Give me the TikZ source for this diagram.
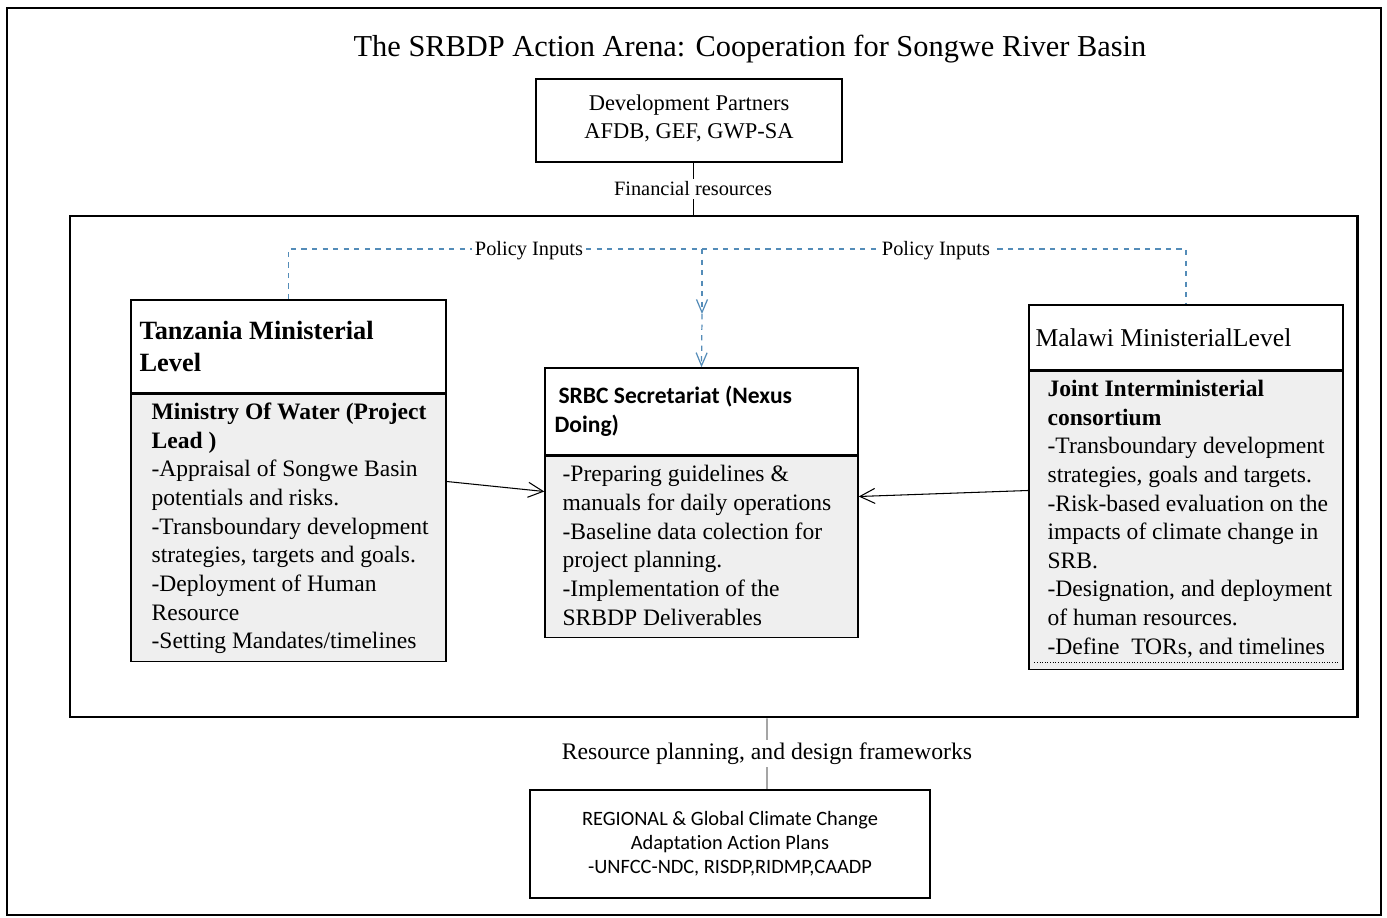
\documentclass[tikz,border=0pt]{standalone}
\usepackage{fontspec}
\setmainfont{Liberation Serif}
\newfontfamily\calibri[Ligatures=NoCommon]{Carlito}
\usetikzlibrary{arrows.meta, positioning}
\newdimen\px \px=0.02cm
\newcommand\fsz[2]{\fontsize{#1}{#2}\selectfont}
\definecolor{policyblue}{RGB}{84,140,184}
\definecolor{bodygray}{RGB}{239,239,239}

\begin{document}
\begin{tikzpicture}[x=0.02cm, y=-0.02cm,
    box/.style={draw, line width=0.85pt, inner sep=0pt},
    txt/.style={inner sep=0pt, align=left, anchor=west},
    body/.style={font=\fsz{13.4}{16.3}},
    lbl/.style={fill=white, inner sep=1.5pt},
    policy/.style={draw=policyblue, dashed, line width=0.7pt},
    ptip/.style={-{Straight Barb[length=2.6mm, width=2.2mm]}},
    flow/.style={-{Straight Barb[length=3mm, width=3mm]}, line width=0.6pt}]
\useasboundingbox (0,0) rectangle (1387,918);
\draw[line width=1.2pt] (7,8) rectangle (1381,915);

% title and partners
\node[anchor=base, font=\fsz{17.3}{20}] (title) at (750,57) {The SRBDP Action Arena: Cooperation for Songwe River Basin};
\node[box, line width=1.4pt, minimum width=306\px, minimum height=83\px, align=center, font=\fsz{12.8}{15.9}] (devp) at (689,120.5) {Development Partners\\AFDB, GEF, GWP-SA\vphantom{(}\\[-12pt]};

% action arena
\node[draw, line width=1.7pt, minimum width=1287\px, minimum height=501\px] (arena) at (713.5,466.5) {};
\draw ([xshift=4\px]devp.south) -- ([xshift=4\px]devp.south |- arena.north) node[midway, lbl, font=\fsz{11.6}{14}] (fin) {Financial resources};

% Tanzania
\node[box, minimum width=315\px, minimum height=93\px] (tzhead) at (288.5,346.5) {};
\node[box, fill=bodygray, minimum width=315\px, minimum height=267\px, anchor=north] (tzbody) at (tzhead.south) {};
\node[txt, font=\fsz{15}{18.1}\bfseries] (tzheadtxt) at ([xshift=9\px]tzhead.west) {Tanzania Ministerial\\Level};
\node[txt, body] (tzbodytxt) at ([xshift=21\px, yshift=-0.01cm]tzbody.west) {{\bfseries Ministry Of Water (Project}\\{\bfseries Lead )}\\-Appraisal of Songwe Basin\\potentials and risks.\\-Transboundary development\\strategies, targets and goals.\\-Deployment of Human\\Resource\\-Setting Mandates/timelines};

% SRBC
\node[box, minimum width=313\px, minimum height=87\px] (srbchead) at (701.5,411.5) {};
\node[box, fill=bodygray, minimum width=313\px, minimum height=181\px, anchor=north] (srbcbody) at (srbchead.south) {};
\node[txt, font=\calibri\fsz{13.4}{16.4}\bfseries] (srbcheadtxt) at ([xshift=10\px]srbchead.west) {\,SRBC Secretariat (Nexus\\Doing)};
\node[txt, body] (srbcbodytxt) at ([xshift=18\px, yshift=0.03cm]srbcbody.west) {-Preparing guidelines \&\\manuals for daily operations\\-Baseline data colection for\\project planning.\\-Implementation of the\\SRBDP Deliverables};

% Malawi
\node[box, minimum width=314\px, minimum height=65\px] (mwhead) at (1186,337.5) {};
\node[box, fill=bodygray, minimum width=314\px, minimum height=298\px, anchor=north] (mwbody) at (mwhead.south) {};
\node[txt, font=\fsz{14.6}{17.5}] (mwheadtxt) at ([xshift=7\px]mwhead.west) {Malawi MinisterialLevel};
\node[txt, body] (mwbodytxt) at ([xshift=19\px, yshift=0.03cm]mwbody.west) {{\bfseries Joint Interministerial}\\{\bfseries consortium}\\-Transboundary development\\strategies, goals and targets.\\-Risk-based evaluation on the\\impacts of climate change in\\SRB.\\-Designation, and deployment\\of human resources.\\-Define\ \ TORs, and timelines};
\draw[densely dotted, line width=0.5pt] ([shift={(6,-8)}]mwbody.south west) -- ([shift={(-5,-8)}]mwbody.south east);

% policy inputs
\coordinate (ptop) at (702,249);
\coordinate (pmid) at (702,314);
\draw[policy] (tzhead.north) |- (ptop) -| (mwhead.north);
\node[lbl, font=\fsz{11.6}{14}] (pin1) at (529,251) {Policy Inputs};
\node[lbl, font=\fsz{11.6}{14}] (pin2) at (936,251) {Policy Inputs};
\draw[policy, ptip] (ptop) -- (pmid);
\draw[policy, ptip] (pmid) -- (srbchead.north);

% flows into the secretariat
\draw[flow] ([yshift=0.93cm]tzbody.east) -- ([yshift=1.11cm]srbcbody.west);
\draw[flow] ([yshift=0.6cm]mwbody.west) -- ([yshift=1.01cm]srbcbody.east);

% frameworks
\node[box, line width=0.7pt, minimum width=400\px, minimum height=108\px, align=center, font=\calibri\fsz{11.6}{13.6}] (plans) at (730,844) {REGIONAL \& Global Climate Change\\Adaptation Action Plans\\-UNFCC-NDC, RISDP,RIDMP,CAADP};
\draw ([xshift=1.07cm]arena.south) -- ([xshift=0.74cm]plans.north) node[midway, lbl, font=\fsz{13.5}{16}] (rpd) {Resource planning, and design frameworks};
\end{tikzpicture}
\end{document}
